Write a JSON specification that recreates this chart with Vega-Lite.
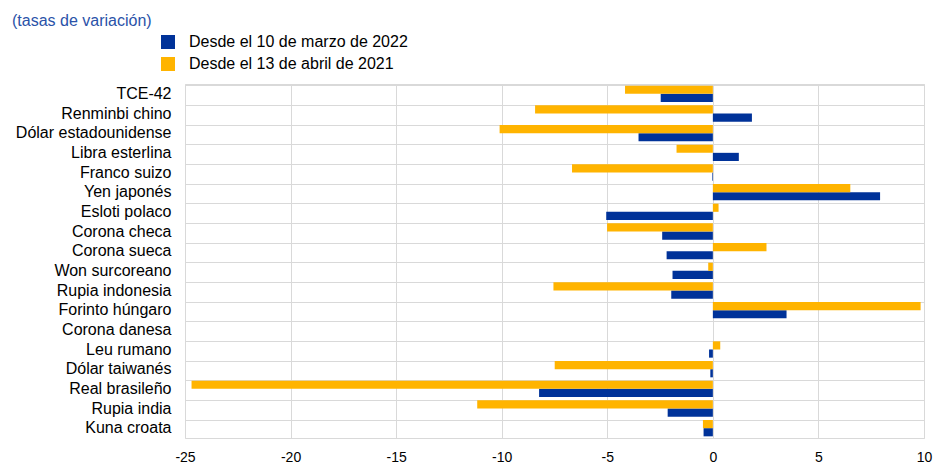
{
  "$schema": "https://vega.github.io/schema/vega-lite/v6.json",
  "autosize": {"type": "none"},
  "padding": {"left": 185, "top": 84, "right": 12, "bottom": 26},
  "width": 739,
  "height": 354,
  "background": "white",
  "config": {
    "font": "Liberation Sans",
    "view": {"stroke": "#d9d9d9", "strokeWidth": 1}
  },
  "title": {
    "text": "(tasas de variación)",
    "anchor": "start",
    "frame": "group",
    "orient": "top",
    "font": "Liberation Sans",
    "fontSize": 16,
    "fontWeight": "normal",
    "color": "#2a52a8",
    "dx": -173,
    "offset": 5
  },
  "data": {
    "values": [
      {"cat": "TCE-42", "serie": "Desde el 10 de marzo de 2022", "val": -2.47},
      {"cat": "TCE-42", "serie": "Desde el 13 de abril de 2021", "val": -4.16},
      {"cat": "Renminbi chino", "serie": "Desde el 10 de marzo de 2022", "val": 1.85},
      {"cat": "Renminbi chino", "serie": "Desde el 13 de abril de 2021", "val": -8.42},
      {"cat": "Dólar estadounidense", "serie": "Desde el 10 de marzo de 2022", "val": -3.52},
      {"cat": "Dólar estadounidense", "serie": "Desde el 13 de abril de 2021", "val": -10.1},
      {"cat": "Libra esterlina", "serie": "Desde el 10 de marzo de 2022", "val": 1.23},
      {"cat": "Libra esterlina", "serie": "Desde el 13 de abril de 2021", "val": -1.72},
      {"cat": "Franco suizo", "serie": "Desde el 10 de marzo de 2022", "val": -0.03},
      {"cat": "Franco suizo", "serie": "Desde el 13 de abril de 2021", "val": -6.67},
      {"cat": "Yen japonés", "serie": "Desde el 10 de marzo de 2022", "val": 7.92},
      {"cat": "Yen japonés", "serie": "Desde el 13 de abril de 2021", "val": 6.51},
      {"cat": "Esloti polaco", "serie": "Desde el 10 de marzo de 2022", "val": -5.05},
      {"cat": "Esloti polaco", "serie": "Desde el 13 de abril de 2021", "val": 0.27},
      {"cat": "Corona checa", "serie": "Desde el 10 de marzo de 2022", "val": -2.4},
      {"cat": "Corona checa", "serie": "Desde el 13 de abril de 2021", "val": -5.01},
      {"cat": "Corona sueca", "serie": "Desde el 10 de marzo de 2022", "val": -2.19},
      {"cat": "Corona sueca", "serie": "Desde el 13 de abril de 2021", "val": 2.54},
      {"cat": "Won surcoreano", "serie": "Desde el 10 de marzo de 2022", "val": -1.91},
      {"cat": "Won surcoreano", "serie": "Desde el 13 de abril de 2021", "val": -0.22},
      {"cat": "Rupia indonesia", "serie": "Desde el 10 de marzo de 2022", "val": -1.97},
      {"cat": "Rupia indonesia", "serie": "Desde el 13 de abril de 2021", "val": -7.55},
      {"cat": "Forinto húngaro", "serie": "Desde el 10 de marzo de 2022", "val": 3.49},
      {"cat": "Forinto húngaro", "serie": "Desde el 13 de abril de 2021", "val": 9.84},
      {"cat": "Corona danesa", "serie": "Desde el 10 de marzo de 2022", "val": 0.0},
      {"cat": "Corona danesa", "serie": "Desde el 13 de abril de 2021", "val": 0.0},
      {"cat": "Leu rumano", "serie": "Desde el 10 de marzo de 2022", "val": -0.18},
      {"cat": "Leu rumano", "serie": "Desde el 13 de abril de 2021", "val": 0.35},
      {"cat": "Dólar taiwanés", "serie": "Desde el 10 de marzo de 2022", "val": -0.12},
      {"cat": "Dólar taiwanés", "serie": "Desde el 13 de abril de 2021", "val": -7.49},
      {"cat": "Real brasileño", "serie": "Desde el 10 de marzo de 2022", "val": -8.23},
      {"cat": "Real brasileño", "serie": "Desde el 13 de abril de 2021", "val": -24.69},
      {"cat": "Rupia india", "serie": "Desde el 10 de marzo de 2022", "val": -2.14},
      {"cat": "Rupia india", "serie": "Desde el 13 de abril de 2021", "val": -11.16},
      {"cat": "Kuna croata", "serie": "Desde el 10 de marzo de 2022", "val": -0.44},
      {"cat": "Kuna croata", "serie": "Desde el 13 de abril de 2021", "val": -0.47}
    ]
  },
  "mark": {"type": "bar"},
  "encoding": {
    "y": {
      "field": "cat",
      "type": "nominal",
      "sort": null,
      "scale": {"paddingInner": 0.17, "paddingOuter": 0.085},
      "axis": {
        "title": null,
        "domain": false,
        "ticks": false,
        "grid": true,
        "bandPosition": 0,
        "gridColor": "#d9d9d9",
        "gridWidth": 1,
        "labelFont": "Liberation Sans",
        "labelFontSize": 16,
        "labelColor": "#000000",
        "labelPadding": 14,
        "labelLimit": 200
      }
    },
    "yOffset": {
      "field": "serie",
      "type": "nominal",
      "scale": {"domain": ["Desde el 13 de abril de 2021", "Desde el 10 de marzo de 2022"], "paddingInner": 0, "paddingOuter": 0}
    },
    "x": {
      "field": "val",
      "type": "quantitative",
      "scale": {"domain": [-25, 10], "nice": false},
      "axis": {
        "title": null,
        "values": [-25, -20, -15, -10, -5, 0, 5, 10],
        "labelExpr": "replace(datum.label, '−', '-')",
        "labelFlush": false,
        "labelOverlap": false,
        "domain": false,
        "ticks": false,
        "grid": true,
        "gridColor": "#d9d9d9",
        "gridWidth": 1,
        "labelFont": "Liberation Sans",
        "labelFontSize": 14,
        "labelColor": "#000000",
        "labelPadding": 12
      }
    },
    "color": {
      "field": "serie",
      "type": "nominal",
      "scale": {
        "domain": ["Desde el 10 de marzo de 2022", "Desde el 13 de abril de 2021"],
        "range": ["#003299", "#ffb400"]
      },
      "legend": {
        "title": null,
        "orient": "none",
        "legendX": -25,
        "legendY": -50,
        "padding": 0,
        "symbolType": "square",
        "symbolSize": 196,
        "symbolStrokeWidth": 0,
        "labelFont": "Liberation Sans",
        "labelFontSize": 16,
        "labelColor": "#000000",
        "labelOffset": 13,
        "labelLimit": 400,
        "rowPadding": 6
      }
    }
  }
}
